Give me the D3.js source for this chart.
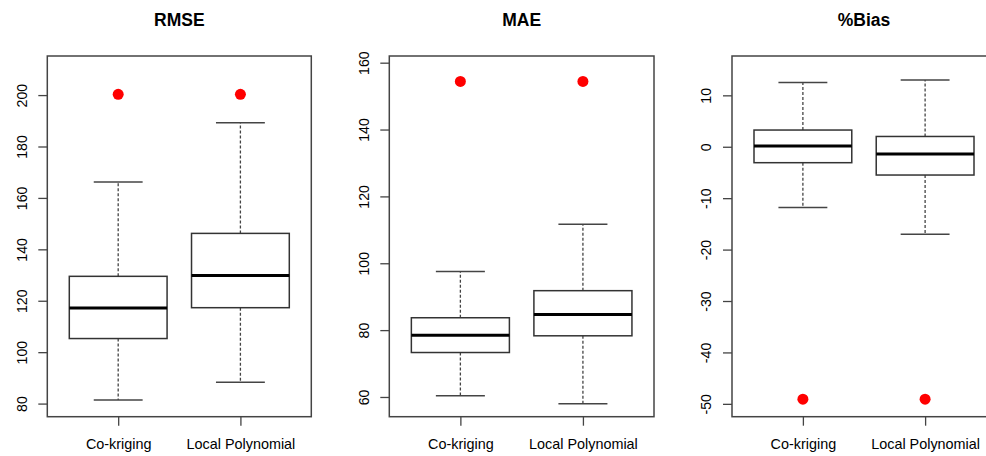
<!DOCTYPE html>
<html>
<head>
<meta charset="utf-8">
<script src="https://cdn.jsdelivr.net/npm/d3@7"></script>
<style>
  html, body { margin: 0; padding: 0; background: #fff; }
  svg { display: block; font-family: Arial, "Liberation Sans", sans-serif; }
</style>
</head>
<body>
<svg id="chart" width="986" height="456"></svg>
<script>
// ---- data ----
const categories = ["Co-kriging", "Local Polynomial"];
const panelTitles = ["RMSE", "MAE", "%Bias"];

// [lower whisker, Q1, median, Q3, upper whisker]
const rmseStats = [[81.4, 105.3, 117.2, 129.5, 166.2], [88.3, 117.3, 129.8, 146.2, 189.2]];
const maeStats  = [[60.4, 73.3, 78.5, 83.7, 97.5],    [58.0, 78.3, 84.7, 91.8, 111.7]];
const biasStats = [[-11.8, -3.1, 0.14, 3.25, 12.5],   [-17.0, -5.5, -1.4, 2.0, 13.0]];

const rmseOutliers = [200.3, 200.3];
const maeOutliers  = [154.4, 154.4];
const biasOutliers = [-49.1, -49.1];

const rmseTicks = [80, 100, 120, 140, 160, 180, 200];
const maeTicks  = [60, 80, 100, 120, 140, 160];
const biasTicks = [-50, -40, -30, -20, -10, 0, 10];

const rmseDomain = [74.9, 215.2];
const maeDomain  = [54.1, 162.0];
const biasDomain = [-52.5, 17.65];

// ---- layout ----
const svg = d3.select("#chart");
const plotTop = 56, plotBottom = 416.7;
const panels = [
  { title: panelTitles[0], stats: rmseStats, out: rmseOutliers, ticks: rmseTicks, dom: rmseDomain, left: 47.3, right: 311.3 },
  { title: panelTitles[1], stats: maeStats,  out: maeOutliers,  ticks: maeTicks,  dom: maeDomain,  left: 389.3, right: 654 },
  { title: panelTitles[2], stats: biasStats, out: biasOutliers, ticks: biasTicks, dom: biasDomain, left: 732, right: 996 }
];

svg.append("rect").attr("width", 986).attr("height", 456).attr("fill", "#fff");

panels.forEach(p => {
  const g = svg.append("g");
  const x = d3.scaleLinear().domain([0.42, 2.58]).range([p.left, p.right]);
  const y = d3.scaleLinear().domain(p.dom).range([plotBottom, plotTop]);

  // title
  g.append("text")
    .attr("x", (p.left + p.right) / 2).attr("y", 26)
    .attr("text-anchor", "middle")
    .attr("font-weight", "bold").attr("font-size", 17.5)
    .attr("fill", "#000")
    .text(p.title);

  // boxes
  categories.forEach((c, i) => {
    const s = p.stats[i];
    const cx = x(i + 1);
    const hw = x(i + 1 + 0.4) - cx;
    const cw = x(i + 1 + 0.2) - cx;
    // whiskers (dashed)
    g.append("line").attr("x1", cx).attr("x2", cx).attr("y1", y(s[3])).attr("y2", y(s[4]))
      .attr("stroke", "#444").attr("stroke-width", 1.3).attr("stroke-dasharray", "3,2");
    g.append("line").attr("x1", cx).attr("x2", cx).attr("y1", y(s[1])).attr("y2", y(s[0]))
      .attr("stroke", "#444").attr("stroke-width", 1.3).attr("stroke-dasharray", "3,2");
    // caps
    [s[0], s[4]].forEach(v => {
      g.append("line").attr("x1", cx - cw).attr("x2", cx + cw).attr("y1", y(v)).attr("y2", y(v))
        .attr("stroke", "#444").attr("stroke-width", 1.5);
    });
    // box
    g.append("rect").attr("x", cx - hw).attr("y", y(s[3]))
      .attr("width", 2 * hw).attr("height", y(s[1]) - y(s[3]))
      .attr("fill", "#fff").attr("stroke", "#333").attr("stroke-width", 1.5);
    // median
    g.append("line").attr("x1", cx - hw).attr("x2", cx + hw).attr("y1", y(s[2])).attr("y2", y(s[2]))
      .attr("stroke", "#000").attr("stroke-width", 3);
    // outlier
    g.append("circle").attr("cx", cx).attr("cy", y(p.out[i])).attr("r", 5.5).attr("fill", "#ff0000");
  });

  // frame
  g.append("rect").attr("x", p.left).attr("y", plotTop)
    .attr("width", p.right - p.left).attr("height", plotBottom - plotTop)
    .attr("fill", "none").attr("stroke", "#444").attr("stroke-width", 1.5);

  // y axis
  const ya = g.append("g").attr("transform", `translate(${p.left},0)`)
    .call(d3.axisLeft(y).tickValues(p.ticks).tickSize(9).tickSizeOuter(0)
      .tickFormat(d => String(d)));
  ya.select(".domain").remove();
  ya.selectAll(".tick line").attr("stroke", "#444").attr("stroke-width", 1.3);
  ya.selectAll(".tick text")
    .attr("x", null).attr("dy", null)
    .attr("text-anchor", "middle")
    .attr("transform", "translate(-20.8,0) rotate(-90)")
    .attr("font-size", 14.2).attr("font-family", "Arial, 'Liberation Sans', sans-serif")
    .attr("fill", "#000");

  // x axis
  const xa = g.append("g").attr("transform", `translate(0,${plotBottom})`)
    .call(d3.axisBottom(x).tickValues([1, 2]).tickSize(9).tickSizeOuter(0)
      .tickFormat((d) => categories[d - 1]));
  xa.select(".domain").remove();
  xa.selectAll(".tick line").attr("stroke", "#444").attr("stroke-width", 1.3);
  xa.selectAll(".tick text")
    .attr("y", 32.8).attr("dy", null)
    .attr("font-size", 14.4).attr("font-family", "Arial, 'Liberation Sans', sans-serif")
    .attr("fill", "#000");
});
</script>
</body>
</html>
